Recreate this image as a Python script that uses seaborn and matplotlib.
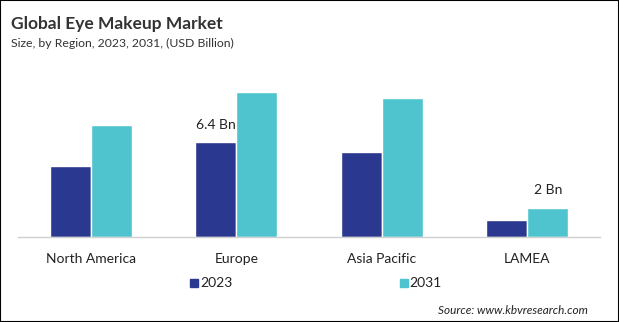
import matplotlib
matplotlib.use("Agg")
import matplotlib.pyplot as plt
import seaborn as sns
import pandas as pd
from matplotlib.patches import Rectangle

regions = ["North America", "Europe", "Asia Pacific", "LAMEA"]
years = ["2023", "2031"]
values_2023 = [4.79, 6.4, 5.73, 1.16]
values_2031 = [7.54, 9.76, 9.36, 2.0]
colors = ["#2B388F", "#4FC4CF"]

df = pd.DataFrame({
    "Region": regions * 2,
    "Year": [years[0]] * 4 + [years[1]] * 4,
    "Value": values_2023 + values_2031,
})

sns.set_theme(style="white")
plt.rcParams["font.family"] = ["Lato", "DejaVu Sans"]

fig = plt.figure(figsize=(6.19, 3.22), dpi=100)
ax = fig.add_axes([18 / 619, (322 - 237.3) / 322, 582 / 619, 157.3 / 322])
sns.barplot(data=df, x="Region", y="Value", hue="Year", palette=colors,
            width=0.564, gap=0, saturation=1, ax=ax, legend=False)
ax.set_ylim(0, 10.56)
ax.set_xlim(-0.5, 3.5)
ax.set_xlabel("")
ax.set_ylabel("")
ax.set_yticks([])
for s in ["top", "right", "left"]:
    ax.spines[s].set_visible(False)
ax.spines["bottom"].set_color("#D0D0D0")
ax.spines["bottom"].set_linewidth(1.0)
ax.tick_params(axis="x", length=0, pad=11, labelsize=10, labelcolor="#222222")

# value labels
c0 = ax.containers[0]
c1 = ax.containers[1]
b = c0[1]
ax.annotate("6.4 Bn", (b.get_x() + b.get_width() / 2, b.get_height()),
            xytext=(0, 8), textcoords="offset points", ha="center", va="bottom",
            fontsize=10, color="#222222")
b = c1[3]
ax.annotate("2 Bn", (b.get_x() + b.get_width() / 2, b.get_height()),
            xytext=(0, 8), textcoords="offset points", ha="center", va="bottom",
            fontsize=10, color="#222222")

fig.text(0.018, (322 - 24) / 322, "Global Eye Makeup Market", fontsize=12.5, fontweight="bold",
         color="#333333", ha="left", va="center")
fig.text(0.018, (322 - 43.5) / 322, "Size, by Region, 2023, 2031, (USD Billion)", fontsize=8.8,
         color="#333333", ha="left", va="center")

# legend
for xm, label, col in [(190, "2023", colors[0]), (399.5, "2031", colors[1])]:
    fig.patches.append(Rectangle((xm / 619, (322 - 287) / 322), 8 / 619, 8 / 322,
                                 transform=fig.transFigure, color=col))
    fig.text((xm + 10) / 619, (322 - 283) / 322, label, fontsize=10,
             color="#222222", ha="left", va="center")

fig.text(588 / 619, (322 - 310) / 322, "Source: www.kbvresearch.com", fontsize=8.5,
         style="italic", color="#222222", ha="right", va="center")

fig.patches.append(Rectangle((0.0008, 0.0015), 0.9984, 0.997, transform=fig.transFigure,
                             fill=False, edgecolor="black", linewidth=1.5))

fig.savefig("out.png", dpi=100)
